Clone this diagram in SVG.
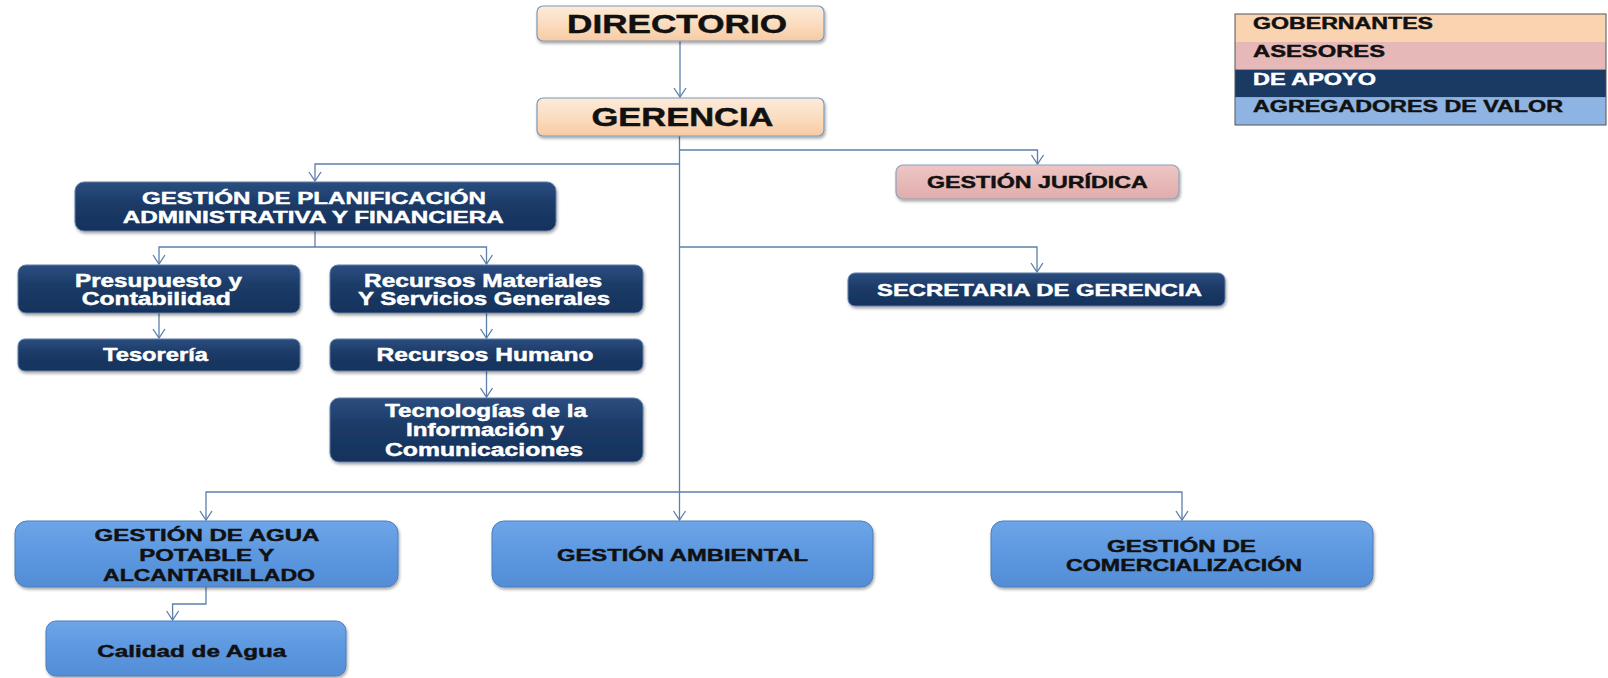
<svg xmlns="http://www.w3.org/2000/svg" width="1608" height="678" viewBox="0 0 1608 678">
<style>
text{font-family:"Liberation Sans",Arial,Helvetica,sans-serif;font-weight:bold;text-anchor:middle;stroke-width:0.45}
.w{fill:#ffffff;stroke:#ffffff}
.k{fill:#111111;stroke:#111111}
.l{text-anchor:start;font-size:16px}
.s{font-size:17px}
.m{font-size:17.5px}
.peach{fill:url(#gPeach);stroke:#7F99B8;stroke-width:1.2}
.pink{fill:url(#gPink);stroke:#8EA2BC;stroke-width:1.2}
.navy{fill:url(#gNavy);stroke:#5F7FA8;stroke-width:1}
.blue{fill:url(#gBlue);stroke:#4A7EBB;stroke-width:1}
.box{filter:url(#sh)}
.c{fill:none;stroke:#5B7FAA;stroke-width:1.3;marker-end:url(#arr)}
.cn{fill:none;stroke:#5B7FAA;stroke-width:1.3}
</style>
<defs>
<linearGradient id="gPeach" x1="0" y1="0" x2="0" y2="1"><stop offset="0" stop-color="#FDEBDA"/><stop offset="0.5" stop-color="#FBDDC0"/><stop offset="1" stop-color="#F6CBA3"/></linearGradient>
<linearGradient id="gPink" x1="0" y1="0" x2="0" y2="1"><stop offset="0" stop-color="#EDC6C5"/><stop offset="1" stop-color="#E0ACAB"/></linearGradient>
<linearGradient id="gNavy" x1="0" y1="0" x2="0" y2="1"><stop offset="0" stop-color="#2B4E80"/><stop offset="0.45" stop-color="#1B3A66"/><stop offset="1" stop-color="#15325C"/></linearGradient>
<linearGradient id="gBlue" x1="0" y1="0" x2="0" y2="1"><stop offset="0" stop-color="#6FA5E8"/><stop offset="0.5" stop-color="#5C98E0"/><stop offset="1" stop-color="#538DD6"/></linearGradient>
<filter id="sh" x="-10%" y="-20%" width="120%" height="150%"><feDropShadow dx="1" dy="2" stdDeviation="1.5" flood-color="#000" flood-opacity="0.35"/></filter>
<marker id="arr" markerUnits="userSpaceOnUse" markerWidth="14" markerHeight="16" viewBox="-11 -8 13 16" refX="0" refY="0" orient="auto"><path d="M-9,-6 L0,0 L-9,6" fill="none" stroke="#5B7FAA" stroke-width="1.3"/></marker>
</defs>

<g id="connectors">
<path class="c" d="M680,41 V97"/>
<path class="c" d="M679.5,136 V520"/>
<path class="c" d="M679.5,164 H315 V181"/>
<path class="c" d="M679.5,150 H1037.5 V164"/>
<path class="c" d="M679.5,247 H1037 V272"/>
<path class="c" d="M679.5,492 H206 V520"/>
<path class="c" d="M679.5,492 H1182 V520"/>
<path class="cn" d="M315,231 V247"/>
<path class="c" d="M315,247 H159 V264"/>
<path class="c" d="M315,247 H486.5 V264"/>
<path class="c" d="M159,313 V338"/>
<path class="c" d="M486.5,313 V338"/>
<path class="c" d="M486.5,371 V397"/>
<path class="c" d="M206,587 V604 H172.6 V620"/>
</g>

<g id="legend">
<rect x="1235" y="14" width="371" height="28" fill="#FAD3B0"/>
<rect x="1235" y="42" width="371" height="27.5" fill="#E6B9B8"/>
<rect x="1235" y="69.5" width="371" height="28" fill="#1B3A63"/>
<rect x="1235" y="97.5" width="371" height="27.5" fill="#8DB4E2"/>
<rect x="1235" y="14" width="371" height="111" fill="none" stroke="#555" stroke-width="1"/>
<text class="l k" x="1253" y="29.3" textLength="180" lengthAdjust="spacingAndGlyphs">GOBERNANTES</text>
<text class="l k" x="1253" y="56.7" textLength="132" lengthAdjust="spacingAndGlyphs">ASESORES</text>
<text class="l w" x="1253" y="84.5" textLength="123" lengthAdjust="spacingAndGlyphs">DE APOYO</text>
<text class="l k" x="1253" y="112" textLength="310" lengthAdjust="spacingAndGlyphs">AGREGADORES DE VALOR</text>
</g>

<g id="directorio">
<rect class="peach box" x="537" y="6" width="287" height="35" rx="6"/>
<text class="k" x="677" y="33" font-size="25.5" textLength="220" lengthAdjust="spacingAndGlyphs">DIRECTORIO</text>
</g>
<g id="gerencia">
<rect class="peach box" x="537" y="98" width="287" height="38" rx="6"/>
<text class="k" x="682.5" y="126" font-size="25" textLength="182" lengthAdjust="spacingAndGlyphs">GERENCIA</text>
</g>

<g id="gpaf">
<rect class="navy box" x="75" y="182" width="481" height="49" rx="9"/>
<text class="w s" x="314" y="203.5" textLength="344" lengthAdjust="spacingAndGlyphs">GESTIÓN DE PLANIFICACIÓN</text>
<text class="w s" x="313.2" y="223" textLength="381" lengthAdjust="spacingAndGlyphs">ADMINISTRATIVA Y FINANCIERA</text>
</g>

<g id="juridica">
<rect class="pink box" x="896" y="165" width="283" height="34" rx="7"/>
<text class="k s" x="1037.4" y="187.5" textLength="221" lengthAdjust="spacingAndGlyphs">GESTIÓN JURÍDICA</text>
</g>

<g id="secretaria">
<rect class="navy box" x="848" y="273" width="377" height="33" rx="7"/>
<text class="w s" x="1039.5" y="295.5" textLength="325" lengthAdjust="spacingAndGlyphs">SECRETARIA DE GERENCIA</text>
</g>

<g id="presupuesto">
<rect class="navy box" x="18" y="265" width="282" height="48" rx="8"/>
<text class="w m" x="158.5" y="286.7" textLength="167" lengthAdjust="spacingAndGlyphs">Presupuesto y</text>
<text class="w m" x="156.3" y="305" textLength="149" lengthAdjust="spacingAndGlyphs">Contabilidad</text>
</g>

<g id="recursos-materiales">
<rect class="navy box" x="330" y="265" width="313" height="48" rx="8"/>
<text class="w m" x="483" y="286.7" textLength="238" lengthAdjust="spacingAndGlyphs">Recursos Materiales</text>
<text class="w m" x="484" y="305" textLength="252" lengthAdjust="spacingAndGlyphs">Y Servicios Generales</text>
</g>

<g id="tesoreria">
<rect class="navy box" x="18" y="339" width="282" height="32" rx="7"/>
<text class="w m" x="155.5" y="361.3" textLength="105" lengthAdjust="spacingAndGlyphs">Tesorería</text>
</g>

<g id="recursos-humano">
<rect class="navy box" x="330" y="339" width="313" height="32" rx="7"/>
<text class="w m" x="485" y="361.3" textLength="217" lengthAdjust="spacingAndGlyphs">Recursos Humano</text>
</g>

<g id="tecnologias">
<rect class="navy box" x="330" y="398" width="313" height="64" rx="9"/>
<text class="w m" x="486" y="417" textLength="202" lengthAdjust="spacingAndGlyphs">Tecnologías de la</text>
<text class="w m" x="485" y="436.3" textLength="158" lengthAdjust="spacingAndGlyphs">Información y</text>
<text class="w m" x="484" y="455.5" textLength="198" lengthAdjust="spacingAndGlyphs">Comunicaciones</text>
</g>

<g id="agua">
<rect class="blue box" x="15" y="521" width="383" height="66" rx="12"/>
<text class="k s" x="207" y="541.3" textLength="225" lengthAdjust="spacingAndGlyphs">GESTIÓN DE AGUA</text>
<text class="k s" x="206.7" y="561.3" textLength="135" lengthAdjust="spacingAndGlyphs">POTABLE Y</text>
<text class="k s" x="209" y="581" textLength="212" lengthAdjust="spacingAndGlyphs">ALCANTARILLADO</text>
</g>

<g id="ambiental">
<rect class="blue box" x="492" y="521" width="381" height="66" rx="12"/>
<text class="k s" x="682.5" y="561" textLength="251" lengthAdjust="spacingAndGlyphs">GESTIÓN AMBIENTAL</text>
</g>

<g id="comercializacion">
<rect class="blue box" x="991" y="521" width="382" height="66" rx="12"/>
<text class="k s" x="1181.5" y="552" textLength="149" lengthAdjust="spacingAndGlyphs">GESTIÓN DE</text>
<text class="k s" x="1184" y="570.5" textLength="236" lengthAdjust="spacingAndGlyphs">COMERCIALIZACIÓN</text>
</g>

<g id="calidad">
<rect class="blue box" x="46" y="621" width="300" height="55" rx="10"/>
<text class="k s" x="191.8" y="656.7" textLength="189" lengthAdjust="spacingAndGlyphs">Calidad de Agua</text>
</g>
</svg>
